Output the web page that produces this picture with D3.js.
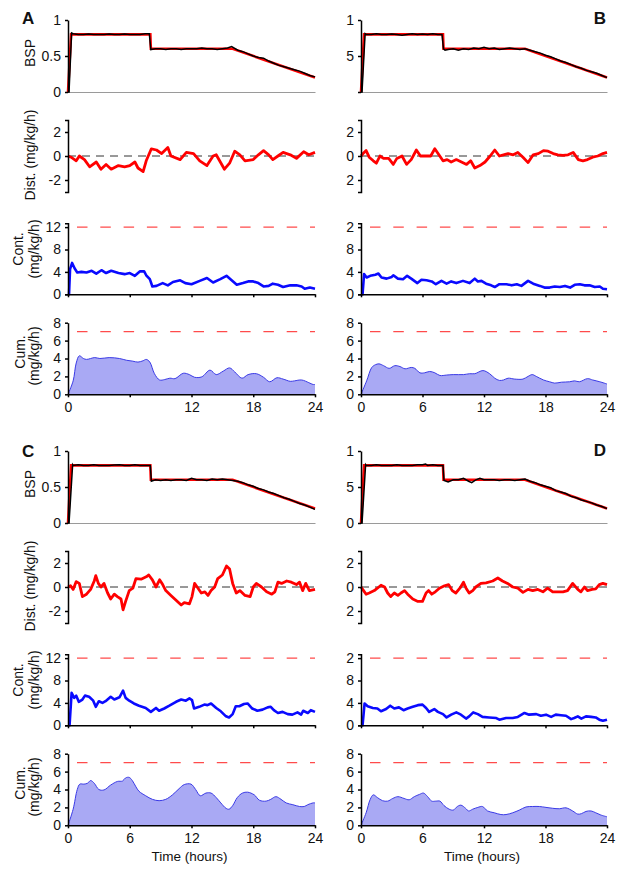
<!DOCTYPE html>
<html><head><meta charset="utf-8">
<script src="https://cdn.jsdelivr.net/npm/d3@7"></script>
<style>
body{margin:0;background:#fff}
svg{display:block}
text{font-family:"Liberation Sans",Arial,sans-serif;fill:#111}
</style>
</head><body>
<svg id="chart" width="624" height="873"></svg>
<script>
// ---------- axis ticks & labels ----------
const hourTicks = [0, 6, 12, 18, 24];
const hourLabelsA = ["0", "", "12", "18", "24"];
const hourLabels = ["0", "6", "12", "18", "24"];
const bspTicks = [0, 0.5, 1];
const bspLabelsLeft = ["0", "0.5", "1"];
const bspLabelsB = ["", "5", "1"];
const bspLabelsD = ["0", "5", "1"];
const distTicks = [-2, 0, 2];
const distLabelsLeft = ["-2", "0", "2"];
const distLabelsRight = ["2", "0", "2"];
const contTicks = [0, 4, 8, 12];
const contLabelsLeft = ["0", "4", "8", "12"];
const contLabelsRight = ["0", "4", "8", "2"];
const cumTicks = [0, 2, 4, 6, 8];
const cumLabels = ["0", "2", "4", "6", "8"];
const contLimit = 12;
const cumLimit = 7;

// ---------- data: [hour, value] ----------
const bspTarget = [[0,0],[0.3,0.8],[8,0.8],[8.05,0.6],[16,0.6],[24,0.2]];

const bspA = [[0,0],[0.1,0],[0.35,0.82],[0.5,0.81],[1,0.80],[1.5,0.80],[2,0.805],[2.5,0.80],[3,0.80],[3.5,0.80],[4,0.805],[4.5,0.80],[5,0.80],[5.5,0.805],[6,0.80],[6.5,0.80],[7,0.80],[7.5,0.81],[7.9,0.81],[8.05,0.59],[8.5,0.60],[9,0.60],[9.5,0.59],[10,0.60],[10.5,0.60],[11,0.59],[11.5,0.60],[12,0.60],[12.5,0.60],[13,0.61],[13.5,0.60],[14,0.60],[14.5,0.59],[15,0.60],[15.5,0.61],[15.9,0.63],[16.5,0.58],[17,0.56],[17.5,0.53],[18,0.50],[18.5,0.48],[19,0.47],[19.5,0.43],[20,0.40],[20.5,0.37],[21,0.35],[21.5,0.33],[22,0.31],[22.5,0.29],[23,0.26],[23.5,0.23],[24,0.21]];
const bspB = [[0,0],[0.1,0],[0.4,0.81],[0.5,0.80],[1,0.80],[1.5,0.81],[2,0.80],[2.5,0.80],[3,0.805],[3.5,0.80],[4,0.79],[4.5,0.80],[5,0.81],[5.5,0.80],[6,0.805],[6.5,0.80],[7,0.81],[7.5,0.80],[7.9,0.80],[8.05,0.60],[8.2,0.58],[8.5,0.59],[9,0.60],[9.5,0.58],[10,0.60],[10.5,0.59],[11,0.61],[11.5,0.60],[12,0.62],[12.5,0.60],[13,0.61],[13.5,0.59],[14,0.60],[14.5,0.61],[15,0.60],[15.5,0.59],[16,0.60],[16.5,0.58],[17,0.56],[17.5,0.54],[18,0.51],[18.5,0.49],[19,0.46],[19.5,0.43],[20,0.41],[20.5,0.38],[21,0.35],[21.5,0.33],[22,0.30],[22.5,0.28],[23,0.26],[23.5,0.23],[24,0.20]];
const bspC = [[0,0],[0.1,0],[0.45,0.81],[0.5,0.80],[1,0.81],[1.5,0.80],[2,0.80],[2.5,0.81],[3,0.80],[3.5,0.80],[4,0.80],[4.5,0.805],[5,0.81],[5.5,0.80],[6,0.80],[6.5,0.81],[7,0.80],[7.5,0.80],[8,0.80],[8.1,0.58],[8.5,0.60],[9,0.59],[9.5,0.60],[10,0.59],[10.5,0.60],[11,0.60],[11.5,0.59],[12,0.62],[12.5,0.60],[13,0.60],[13.5,0.59],[14,0.61],[14.5,0.60],[15,0.61],[15.5,0.60],[16,0.59],[16.5,0.58],[17,0.56],[17.5,0.53],[18,0.51],[18.5,0.48],[19,0.46],[19.5,0.43],[20,0.41],[20.5,0.38],[21,0.35],[21.5,0.33],[22,0.30],[22.5,0.27],[23,0.25],[23.5,0.22],[24,0.19]];
const bspD = [[0,0],[0.1,0],[0.45,0.81],[0.5,0.80],[1,0.80],[1.5,0.81],[2,0.80],[2.5,0.80],[3,0.80],[3.5,0.81],[4,0.80],[4.5,0.80],[5,0.80],[5.5,0.81],[6,0.81],[6.3,0.82],[6.5,0.80],[7,0.81],[7.5,0.80],[8,0.80],[8.1,0.59],[8.5,0.57],[9,0.60],[9.5,0.60],[10,0.62],[10.5,0.58],[10.8,0.56],[11.2,0.60],[11.6,0.62],[12,0.60],[12.5,0.60],[13,0.60],[13.5,0.59],[14,0.60],[14.5,0.60],[15,0.59],[15.5,0.60],[16,0.61],[16.5,0.58],[17,0.56],[17.5,0.53],[18,0.51],[18.5,0.49],[19,0.45],[19.5,0.43],[20,0.41],[20.5,0.37],[21,0.35],[21.5,0.32],[22,0.30],[22.5,0.28],[23,0.25],[23.5,0.23],[24,0.20]];

const distA = [[0,0],[0.3,-0.1],[0.8,-0.4],[1.1,0],[1.6,-0.3],[2.1,-0.9],[2.75,-0.5],[3.2,-1.1],[3.7,-0.7],[4.2,-1.1],[4.9,-0.8],[5.5,-0.9],[6,-0.8],[6.5,-0.5],[6.8,-1.0],[7.3,-1.3],[7.6,-0.4],[8.1,0.6],[8.6,0.5],[9.1,0.2],[9.7,0.7],[10,0],[10.9,-0.3],[11.5,0.3],[12.2,0.2],[12.8,-0.4],[13.5,-0.8],[14.1,0],[14.4,0.1],[14.8,-0.5],[15.2,-1.1],[15.7,-0.6],[16.2,0.4],[16.7,0.1],[17.2,-0.4],[18,-0.3],[18.5,0.1],[19,0.45],[19.5,0.1],[19.9,-0.3],[20.4,0],[20.9,0.3],[21.6,0.1],[22.2,-0.2],[22.9,0.35],[23.4,0.1],[24,0.3]];
const distB = [[0,0],[0.2,0.2],[0.5,0.45],[0.8,-0.1],[1.2,-0.4],[1.5,-0.6],[1.85,0],[2.2,-0.2],[2.7,-0.2],[3.15,-0.7],[3.5,-0.2],[4,0],[4.45,-0.7],[4.9,-0.3],[5.4,0.5],[5.8,0],[6.4,0],[6.8,0],[7.2,0.6],[7.6,0.1],[8,-0.4],[8.4,-0.3],[8.8,-0.5],[9.3,-0.3],[9.8,-0.5],[10.3,-0.7],[10.7,-0.4],[11.1,-1.0],[11.6,-0.8],[12.1,-0.5],[12.6,0],[13.05,0.5],[13.5,0],[13.9,0.1],[14.35,0.2],[14.85,0.1],[15.3,0.3],[15.8,-0.1],[16.3,-0.55],[16.8,0.1],[17.3,0.2],[17.8,0.45],[18.25,0.4],[18.75,0.2],[19.2,0.1],[19.7,0.05],[20.2,0.1],[20.7,0.3],[21.2,-0.3],[21.65,-0.4],[22.1,-0.3],[22.6,-0.1],[23.1,0],[23.6,0.2],[24,0.3]];
const distC = [[0,0],[0.25,0.1],[0.5,-0.2],[0.8,0.45],[1.1,0.3],[1.4,-0.8],[1.8,-0.6],[2.2,-0.2],[2.55,0.5],[2.7,0.95],[2.95,0.3],[3.2,0],[3.5,0.3],[3.85,-0.5],[4.15,-1.0],[4.5,-0.6],[4.8,-0.8],[5.15,-1.0],[5.35,-1.9],[5.6,-1.2],[5.95,-0.3],[6.3,-0.1],[6.6,0.7],[7.1,0.65],[7.6,0.85],[7.85,1.0],[8.2,0.6],[8.55,0],[8.9,0.6],[9.2,0.2],[9.5,-0.3],[10,-0.7],[10.5,-1.1],[11,-1.5],[11.3,-1.3],[11.8,-1.4],[12.05,-0.8],[12.3,0.3],[12.55,0],[12.95,-0.5],[13.3,-0.4],[13.6,-0.7],[13.9,-0.3],[14.25,0],[14.55,0.7],[15,1.0],[15.4,1.75],[15.7,1.5],[16,0.3],[16.35,-0.5],[16.7,-0.3],[17.2,-0.7],[17.7,-0.8],[18,0],[18.3,0.3],[18.8,0],[19.3,-0.4],[19.8,-0.6],[20.1,-0.4],[20.4,0.4],[20.75,0.3],[21.25,0.5],[21.7,0.4],[22.2,0.2],[22.5,0.4],[22.8,-0.3],[23.1,0.3],[23.45,-0.3],[24,-0.2]];
const distD = [[0,0],[0.25,-0.3],[0.5,-0.6],[0.8,-0.5],[1.3,-0.3],[1.6,-0.1],[1.95,0.15],[2.3,0],[2.6,-0.5],[2.9,-0.8],[3.25,-0.5],[3.6,-0.7],[3.9,-0.5],[4.25,-0.3],[4.55,-0.6],[5.05,-1.0],[5.55,-1.2],[6,-1.2],[6.35,-0.5],[6.6,-0.3],[6.9,-0.6],[7.25,-0.4],[7.65,-0.1],[8.15,0.1],[8.55,0.2],[8.9,-0.3],[9.25,-0.5],[9.65,-0.1],[10,0.4],[10.25,-0.1],[10.55,-0.5],[10.9,-0.3],[11.2,0],[11.7,0.3],[12.2,0.35],[12.85,0.5],[13.35,0.75],[13.8,0.5],[14.3,0.3],[14.8,0],[15.3,-0.1],[15.8,-0.45],[16.3,-0.2],[16.75,-0.3],[17.25,-0.2],[17.75,-0.4],[18.2,-0.1],[18.7,-0.4],[19.2,-0.4],[19.7,-0.4],[20.15,-0.3],[20.65,0.3],[21.15,-0.2],[21.45,-0.4],[21.8,0],[22.1,-0.3],[22.55,-0.2],[22.9,-0.15],[23.25,0.2],[23.6,0.3],[24,0.2]];

const contA = [[0,0],[0.1,0],[0.2,4.5],[0.4,5.6],[0.65,4.6],[0.9,3.9],[1.3,4.0],[1.8,3.9],[2.3,4.2],[2.75,3.7],[3.25,4.3],[3.7,3.8],[4.2,4.2],[4.9,3.8],[5.5,3.6],[6,3.8],[6.5,3.3],[7,4.1],[7.4,4.1],[7.6,3.4],[7.95,2.7],[8.2,1.4],[8.6,1.5],[9.2,2.0],[9.7,1.6],[10.2,2.2],[10.9,2.5],[11.4,2.0],[12,1.8],[12.8,2.4],[13.5,2.9],[14.1,2.1],[14.8,2.7],[15.4,3.3],[15.9,2.5],[16.4,1.7],[17,2.0],[17.5,2.3],[18,2.3],[18.5,2.0],[19,1.4],[19.5,1.5],[19.9,1.9],[20.4,1.7],[20.9,1.3],[21.6,1.6],[22.2,1.6],[22.7,1.4],[23,1.0],[23.5,1.2],[24,1.0]];
const contB = [[0,0],[0.15,0],[0.3,3.6],[0.55,3.0],[0.9,3.3],[1.4,3.5],[1.7,3.7],[2,3.0],[2.5,2.8],[3,3.1],[3.15,3.4],[3.6,2.8],[4.1,2.7],[4.5,3.3],[4.9,2.8],[5.5,2.0],[5.9,2.6],[6.4,2.5],[6.9,2.3],[7.3,1.8],[7.85,2.4],[8.35,1.9],[8.8,2.3],[9.3,2.0],[9.95,2.4],[10.6,2.0],[11.1,2.8],[11.4,2.3],[11.75,2.4],[12.2,1.9],[12.7,1.6],[13.05,1.3],[13.5,1.8],[14.2,1.8],[14.7,1.6],[15.2,1.8],[15.65,1.5],[16.3,2.4],[16.8,1.9],[17.45,1.5],[17.9,1.2],[18.4,1.2],[18.9,1.4],[19.4,1.3],[19.9,1.5],[20.4,1.2],[20.85,1.7],[21.35,1.8],[21.8,1.6],[22.3,1.6],[22.8,1.3],[23.3,1.4],[23.6,1.0],[24,0.9]];
const contC = [[0,0],[0.15,0],[0.35,5.8],[0.6,4.9],[0.8,5.3],[1.05,4.2],[1.4,4.6],[1.65,5.3],[2.05,5.1],[2.45,4.4],[2.7,3.3],[3,4.3],[3.35,4.0],[3.65,4.3],[4.15,5.1],[4.5,4.6],[5,5.0],[5.35,6.2],[5.6,4.9],[5.95,4.4],[6.4,3.9],[6.9,3.5],[7.55,3.1],[8.05,2.4],[8.55,3.1],[8.85,2.6],[9.35,3.0],[9.85,3.5],[10.5,4.2],[11,4.6],[11.45,4.4],[11.8,4.8],[12.05,4.5],[12.25,3.0],[12.75,3.3],[13.25,3.7],[13.55,3.6],[13.9,3.9],[14.4,3.1],[14.85,2.5],[15.35,1.6],[15.65,1.4],[16,2.0],[16.3,3.4],[16.65,3.4],[17.1,3.8],[17.45,3.9],[17.9,3.0],[18.4,2.6],[18.9,2.8],[19.4,3.2],[19.7,3.3],[20,2.7],[20.4,2.2],[20.85,2.4],[21.35,2.0],[21.8,1.9],[22.3,2.3],[22.65,1.9],[22.85,2.6],[23.3,2.2],[23.6,2.7],[24,2.4]];
const contD = [[0,0],[0.15,0],[0.35,3.9],[0.65,3.4],[1.15,3.1],[1.6,3.0],[1.95,2.5],[2.45,2.9],[2.85,3.5],[3.25,3.0],[3.7,3.2],[4.15,2.7],[4.55,3.0],[5.05,3.3],[5.55,3.6],[6,3.7],[6.35,3.1],[6.65,2.4],[7.15,2.9],[7.5,2.4],[8,2.0],[8.35,1.4],[8.8,1.9],[9.3,2.3],[9.75,1.9],[10.25,1.2],[10.55,1.6],[10.95,2.3],[11.4,2.0],[11.85,1.5],[12.5,1.4],[13.2,1.3],[13.5,1.0],[14.15,1.3],[14.8,1.3],[15.3,1.5],[15.95,2.2],[16.4,1.9],[17.1,2.0],[17.55,1.7],[18.05,1.9],[18.55,1.5],[19,1.9],[19.5,1.8],[20,1.7],[20.5,1.1],[20.8,1.3],[21.15,1.6],[21.5,1.2],[21.95,1.6],[22.45,1.5],[22.9,1.4],[23.25,1.0],[23.6,0.8],[24,1.0]];

const cumA = [[0,0],[0.5,1.5],[0.8,3.5],[1.1,4.3],[1.5,4.0],[1.8,3.9],[2.6,4.1],[3.1,4.0],[4,4.1],[5,4.0],[5.7,3.8],[6.3,3.7],[6.8,3.6],[7.3,3.75],[7.6,3.9],[7.95,3.6],[8.4,2.3],[8.9,1.6],[9.4,1.65],[9.9,1.8],[10.4,1.75],[11.2,2.35],[11.8,2.2],[12.3,1.9],[13,1.95],[13.8,2.7],[14.4,2.2],[15.1,2.6],[15.7,2.95],[16.2,2.5],[16.9,1.8],[17.5,2.2],[18.3,2.3],[19,1.9],[19.6,1.4],[20.3,1.85],[20.9,1.7],[21.6,1.45],[22,1.5],[22.7,1.6],[23.4,1.3],[23.8,1.1],[24,1.1]];
const cumB = [[0,0],[0.55,1.5],[1.05,3.0],[1.4,3.3],[1.75,3.4],[2.2,3.2],[2.75,2.9],[3.3,3.2],[3.8,3.1],[4.3,2.85],[4.9,3.0],[5.25,2.9],[5.75,2.4],[6.2,2.4],[6.7,2.55],[7.2,2.4],[7.7,2.1],[8.35,2.15],[9,2.2],[10,2.2],[10.6,2.3],[11.1,2.3],[11.9,2.65],[12.55,2.3],[13.05,1.8],[13.5,1.55],[13.9,1.6],[14.35,1.8],[15,1.7],[15.8,1.7],[16.3,2.0],[16.7,2.2],[17.1,2.0],[17.8,1.6],[18.4,1.4],[18.9,1.25],[19.55,1.35],[20.35,1.4],[20.85,1.5],[21.3,1.4],[22.1,1.75],[22.6,1.6],[23.3,1.4],[24,1.15]];
const cumC = [[0,0],[0.5,1.8],[0.9,4.0],[1.15,4.6],[1.55,4.6],[1.9,4.7],[2.2,5.0],[2.55,4.7],[3,4.0],[3.5,3.95],[4.15,4.5],[4.8,4.9],[5.3,4.95],[5.6,5.3],[5.95,5.35],[6.25,5.0],[6.6,4.3],[6.9,3.8],[7.55,3.3],[8.2,2.9],[8.85,2.75],[9.5,2.9],[10.15,3.4],[10.8,4.1],[11.3,4.55],[11.95,4.6],[12.4,4.0],[12.85,3.3],[13.4,3.6],[13.9,3.6],[14.4,3.1],[14.85,2.5],[15.35,1.9],[15.65,1.8],[16,2.2],[16.45,3.1],[16.95,3.6],[17.45,3.7],[18.1,3.4],[18.6,2.8],[19.25,2.7],[19.7,2.9],[20.2,3.2],[20.7,2.9],[21.2,2.5],[21.85,2.3],[22.5,2.1],[22.95,2.1],[23.3,2.3],[23.8,2.5],[24,2.5]];
const cumD = [[0,0],[0.5,1.4],[0.9,2.9],[1.2,3.4],[1.6,3.1],[2.1,2.75],[2.6,2.7],[3.1,3.0],[3.6,3.2],[4.2,3.0],[4.7,2.85],[5.2,3.2],[5.7,3.45],[6.1,3.6],[6.5,3.2],[6.9,2.7],[7.3,2.7],[7.7,2.7],[8.1,2.2],[8.6,1.8],[9,1.7],[9.4,2.1],[9.75,2.25],[10.2,1.9],[10.5,1.6],[10.9,1.8],[11.4,2.0],[11.85,2.1],[12.35,1.6],[13,1.4],[13.65,1.2],[14.15,1.2],[14.8,1.4],[15.45,1.7],[16.1,2.05],[16.75,2.1],[17.4,2.1],[18.05,2.0],[18.7,1.9],[19.35,1.85],[20,1.95],[20.65,1.6],[21.15,1.25],[21.5,1.3],[21.95,1.55],[22.45,1.6],[22.9,1.4],[23.4,1.15],[24,0.95]];

// ---------- layout ----------
const svg = d3.select("#chart");
const cols = { left: [68, 315], right: [361, 607] };
const rows = {
  bsp:  { dom: [0, 1],    rng: [92, 20] },
  dist: { dom: [-3, 3],   rng: [192, 120] },
  cont: { dom: [0, 12.7], rng: [294.3, 223.2] },
  cum:  { dom: [0, 8],    rng: [394.3, 322.7] }
};
const panels = [
  { label: "A", col: "left",  dy: 0,   bsp: bspA, dist: distA, cont: contA, cum: cumA, bspLab: bspLabelsLeft, distLab: distLabelsLeft,  contLab: contLabelsLeft,  xLab: hourLabelsA, titles: true,  xTitle: false, lx: 22,  lanchor: "start", ly: 24 },
  { label: "B", col: "right", dy: 0,   bsp: bspB, dist: distB, cont: contB, cum: cumB, bspLab: bspLabelsB,    distLab: distLabelsRight, contLab: contLabelsRight, xLab: hourLabels,  titles: false, xTitle: false, lx: 606, lanchor: "end",   ly: 24 },
  { label: "C", col: "left",  dy: 431, bsp: bspC, dist: distC, cont: contC, cum: cumC, bspLab: bspLabelsLeft, distLab: distLabelsLeft,  contLab: contLabelsLeft,  xLab: hourLabels,  titles: true,  xTitle: true,  lx: 22,  lanchor: "start", ly: 457 },
  { label: "D", col: "right", dy: 431, bsp: bspD, dist: distD, cont: contD, cum: cumD, bspLab: bspLabelsD,    distLab: distLabelsRight, contLab: contLabelsRight, xLab: hourLabels,  titles: false, xTitle: true,  lx: 606, lanchor: "end",   ly: 456 }
];

function styleAxis(g, color, width) {
  g.select(".domain").attr("stroke", color).attr("stroke-width", width);
  g.selectAll(".tick line").attr("stroke", color).attr("stroke-width", width);
  g.selectAll(".tick text").attr("fill", "#111").style("font-size", "14px")
    .style("font-family", '"Liberation Sans", Arial, sans-serif');
}

function yAxis(g, y, ticks, labels, x0, outer) {
  const ax = d3.axisLeft(y).tickValues(ticks).tickFormat((d, i) => labels[i])
    .tickSize(3).tickSizeOuter(outer).tickPadding(4);
  const gg = g.append("g").attr("transform", `translate(${x0},0)`).call(ax);
  styleAxis(gg, "#000", 1.5);
  return gg;
}

function limitLine(g, x, y, v) {
  g.append("line")
    .attr("x1", x(0) + 9).attr("x2", x(24))
    .attr("y1", y(v)).attr("y2", y(v))
    .attr("stroke", "#ff4b4b").attr("stroke-width", 1.4)
    .attr("stroke-dasharray", "10.5,12.8");
}

function rotTitle(g, x, yc, txt) {
  g.append("text").attr("transform", `translate(${x},${yc}) rotate(-90)`)
    .attr("text-anchor", "middle").style("font-size", "14px").text(txt);
}

panels.forEach(p => {
  const g = svg.append("g");
  const x = d3.scaleLinear().domain([0, 24]).range(cols[p.col]);
  const Y = k => d3.scaleLinear().domain(rows[k].dom).range(rows[k].rng.map(v => v + p.dy));
  const line = (xs, ys) => d3.line().x(d => xs(d[0])).y(d => ys(d[1]));

  // ---- BSP ----
  const yb = Y("bsp");
  const gx0 = g.append("g").attr("transform", `translate(0,${yb(0)})`)
    .call(d3.axisBottom(x).tickValues([]).tickSizeOuter(0));
  gx0.select(".domain").attr("stroke", "#9a9a9a").attr("stroke-width", 1);
  g.append("path").datum(bspTarget).attr("d", line(x, yb))
    .attr("fill", "none").attr("stroke", "#ff0000").attr("stroke-width", 2.6);
  g.append("path").datum(p.bsp).attr("d", line(x, yb))
    .attr("fill", "none").attr("stroke", "#000").attr("stroke-width", 1.5);
  yAxis(g, yb, bspTicks, p.bspLab, x(0), 0);

  // ---- Disturbance ----
  const yd = Y("dist");
  g.append("line").attr("x1", x(0)).attr("x2", x(24)).attr("y1", yd(0)).attr("y2", yd(0))
    .attr("stroke", "#333").attr("stroke-width", 1).attr("stroke-dasharray", "8,6");
  g.append("path").datum(p.dist).attr("d", line(x, yd))
    .attr("fill", "none").attr("stroke", "#ff0000").attr("stroke-width", 2.8)
    .attr("stroke-linejoin", "round");
  yAxis(g, yd, distTicks, p.distLab, x(0), 3);

  // ---- Continuous ----
  const yc = Y("cont");
  limitLine(g, x, yc, contLimit);
  g.append("path").datum(p.cont).attr("d", line(x, yc))
    .attr("fill", "none").attr("stroke", "#0a0aff").attr("stroke-width", 2.6)
    .attr("stroke-linejoin", "round");
  const gxc = g.append("g").attr("transform", `translate(0,${yc(0)})`)
    .call(d3.axisBottom(x).tickValues(hourTicks).tickFormat("").tickSize(3).tickSizeOuter(0));
  styleAxis(gxc, "#000", 1.5);
  yAxis(g, yc, contTicks, p.contLab, x(0), 3);

  // ---- Cumulative ----
  const yu = Y("cum");
  g.append("path").datum(p.cum)
    .attr("d", d3.area().x(d => x(d[0])).y0(yu(0)).y1(d => yu(d[1])).curve(d3.curveCatmullRom.alpha(0.5)))
    .attr("fill", "#a9a9f4");
  g.append("path").datum(p.cum)
    .attr("d", line(x, yu).curve(d3.curveCatmullRom.alpha(0.5)))
    .attr("fill", "none").attr("stroke", "#3a3ae6").attr("stroke-width", 1);
  limitLine(g, x, yu, cumLimit);
  const gxu = g.append("g").attr("transform", `translate(0,${yu(0)})`)
    .call(d3.axisBottom(x).tickValues(hourTicks).tickFormat((d, i) => p.xLab[i])
      .tickSize(3).tickSizeOuter(0).tickPadding(5));
  styleAxis(gxu, "#000", 1.5);
  yAxis(g, yu, cumTicks, cumLabels, x(0), 0);

  // ---- titles ----
  if (p.titles) {
    rotTitle(g, 35, p.dy + 53, "BSP");
    rotTitle(g, 35, p.dy + 155, "Dist. (mg/kg/h)");
    rotTitle(g, 22.5, p.dy + 249, "Cont.");
    rotTitle(g, 38.5, p.dy + 249, "(mg/kg/h)");
    rotTitle(g, 25, p.dy + 352, "Cum.");
    rotTitle(g, 39, p.dy + 356, "(mg/kg/h)");
  }
  if (p.xTitle) {
    g.append("text").attr("x", (x(0) + x(24)) / 2 - 2).attr("y", 861)
      .attr("text-anchor", "middle").style("font-size", "13.5px").text("Time (hours)");
  }
  g.append("text").attr("x", p.lx).attr("y", p.ly).attr("text-anchor", p.lanchor)
    .style("font-size", "17px").style("font-weight", "bold").text(p.label);
});
</script>
</body></html>
